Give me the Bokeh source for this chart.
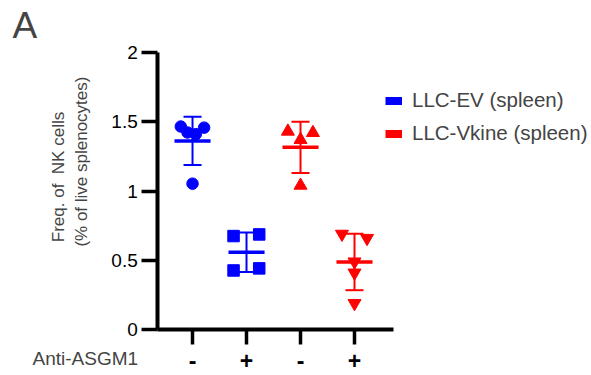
import numpy as np
from bokeh.plotting import figure
from bokeh.models import Range1d, FixedTicker, Label, Legend, LegendItem
from bokeh.embed import file_html
from bokeh.resources import INLINE

# ---- data ----
groups = [1, 2, 3, 4]
treatment_labels = ["-", "+", "-", "+"]
ev_minus = [1.465, 1.422, 1.41, 1.457, 1.053]
ev_plus = [0.675, 0.687, 0.427, 0.442]
vk_minus = [1.43, 1.42, 1.37, 1.04]
vk_plus = [0.69, 0.66, 0.49, 0.41, 0.19]
jit_ev_minus = [-0.217, -0.093, 0.061, 0.215, 0.0]
jit_ev_plus = [-0.24, 0.235, -0.24, 0.235]
jit_vk_minus = [-0.234, 0.23, 0.0, 0.0]
jit_vk_plus = [-0.232, 0.232, 0.0, 0.0, 0.0]
y_ticks = [0, 0.5, 1, 1.5, 2]
y_tick_labels = ["0", "0.5", "1", "1.5", "2"]
series_names = ["LLC-EV (spleen)", "LLC-Vkine (spleen)"]
x_title = "Anti-ASGM1"
y_title_1 = "Freq. of \u00a0NK cells"
y_title_2 = "(% of live splenocytes)"
panel_letter = "A"

BLUE = "#0000ff"
RED = "#ff0000"
FONT = "Liberation Sans"

X0, X1 = 0.356, 4.716   # extent of the x axis line
Y0, Y1 = 0.0, 2.0       # extent of the y axis line

p = figure(width=590, height=374,
           x_range=Range1d(-2.5566, 8.371), y_range=Range1d(-0.3232, 2.3738),
           output_backend="svg", toolbar_location=None,
           min_border_left=0, min_border_right=0,
           min_border_top=0, min_border_bottom=0)
p.outline_line_color = None
p.xgrid.grid_line_color = None
p.ygrid.grid_line_color = None
p.background_fill_color = "white"

# y axis
p.yaxis.fixed_location = X0
p.yaxis.bounds = (Y0, Y1)
p.yaxis.ticker = FixedTicker(ticks=y_ticks)
p.yaxis.major_label_overrides = {t: l for t, l in zip(y_ticks, y_tick_labels)}
p.yaxis.minor_tick_line_color = None
p.yaxis.major_tick_out = 16
p.yaxis.major_tick_in = 0
p.yaxis.major_tick_line_width = 3.5
p.yaxis.axis_line_width = 4
p.yaxis.major_label_standoff = 4
p.yaxis.major_label_text_font = FONT
p.yaxis.major_label_text_font_size = "19px"
p.yaxis.major_label_text_color = "black"

# x axis
p.xaxis.fixed_location = Y0
p.xaxis.bounds = (X0, X1)
p.xaxis.ticker = FixedTicker(ticks=groups)
p.xaxis.major_label_overrides = {g: t for g, t in zip(groups, treatment_labels)}
p.xaxis.major_label_text_font = FONT
p.xaxis.major_label_text_font_size = "23px"
p.xaxis.major_label_text_font_style = "bold"
p.xaxis.major_label_text_color = "black"
p.xaxis.major_label_standoff = 7
p.xaxis.minor_tick_line_color = None
p.xaxis.major_tick_out = 15
p.xaxis.major_tick_in = 0
p.xaxis.major_tick_line_width = 3.5
p.xaxis.axis_line_width = 4

sets = [
    (1, ev_minus, jit_ev_minus, BLUE, "circle", 11.5),
    (2, ev_plus, jit_ev_plus, BLUE, "square", 11.5),
    (3, vk_minus, jit_vk_minus, RED, "triangle", 13),
    (4, vk_plus, jit_vk_plus, RED, "inverted_triangle", 13),
]

for g, vals, jit, col, marker, size in sets:
    v = np.array(vals)
    m = v.mean()
    sd = v.std(ddof=1)
    p.segment(x0=[g], y0=[m - sd], x1=[g], y1=[m + sd], line_color=col, line_width=2)
    p.segment(x0=[g - 0.167, g - 0.167], y0=[m - sd, m + sd],
              x1=[g + 0.167, g + 0.167], y1=[m - sd, m + sd],
              line_color=col, line_width=2)
    p.segment(x0=[g - 0.334], y0=[m], x1=[g + 0.334], y1=[m], line_color=col, line_width=3.5)
    p.scatter(x=list(g + np.array(jit)), y=vals, marker=marker, size=size,
              fill_color=col, line_color=col, line_width=1)

# legend (line renderers with a single undrawn point, used only for swatches)
r_ev = p.line(x=np.array([np.nan]), y=np.array([np.nan]), line_color=BLUE,
              line_width=8, line_cap="butt")
r_vk = p.line(x=np.array([np.nan]), y=np.array([np.nan]), line_color=RED,
              line_width=8, line_cap="butt")
legend = Legend(items=[LegendItem(label=series_names[0], renderers=[r_ev]),
                       LegendItem(label=series_names[1], renderers=[r_vk])],
                location=(385, 229), glyph_width=17, glyph_height=23,
                label_height=23, label_standoff=10, spacing=9, padding=0,
                margin=0, border_line_color=None, background_fill_alpha=0,
                label_text_font=FONT, label_text_font_size="20.5px")
p.add_layout(legend, "center")

p.add_layout(Label(x=-1.963, y=-0.2076, text=x_title, text_align="left",
                   text_baseline="alphabetic", text_font=FONT, text_font_size="19px"))
p.add_layout(Label(x=-1.490, y=0.631, text=y_title_1, angle=np.pi / 2,
                   text_align="left", text_baseline="alphabetic",
                   text_font=FONT, text_font_size="17px"))
p.add_layout(Label(x=-1.063, y=0.599, text=y_title_2, angle=np.pi / 2,
                   text_align="left", text_baseline="alphabetic",
                   text_font=FONT, text_font_size="17px"))
p.add_layout(Label(x=-2.334, y=2.193, text=panel_letter, text_align="left",
                   text_baseline="alphabetic", text_font=FONT, text_font_size="37px"))

open("out.html", "w").write(file_html(p, INLINE))
